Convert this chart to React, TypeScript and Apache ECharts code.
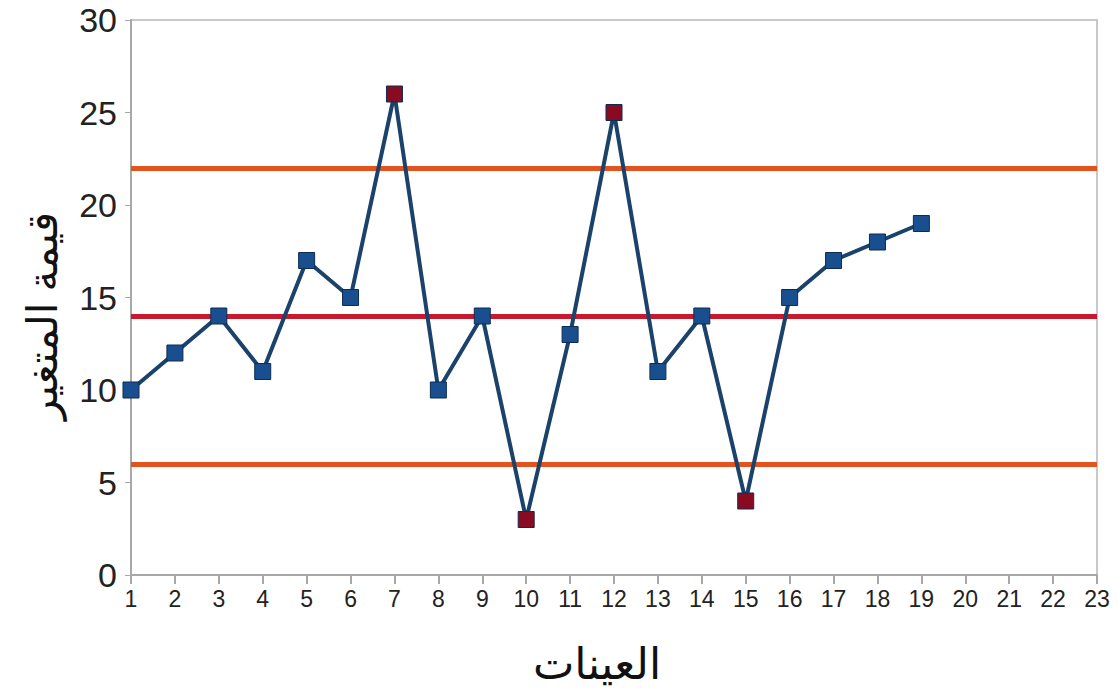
import React, { useEffect, useRef } from "react";
import * as echarts from "echarts";

const categories = ["1","2","3","4","5","6","7","8","9","10","11","12","13","14","15","16","17","18","19","20","21","22","23"];
const values = [10, 12, 14, 11, 17, 15, 26, 10, 14, 3, 13, 25, 11, 14, 4, 15, 17, 18, 19];
const UCL = 22;
const CL = 14;
const LCL = 6;
const yTitle = "قيمة المتغير";
const xTitle = "العينات";

export default function App() {
  const ref = useRef<HTMLDivElement>(null);
  useEffect(() => {
    document.body.style.margin = "0";
    const chart = echarts.init(ref.current!, null, { renderer: "svg" });
    const font = "'Liberation Sans', Arial, sans-serif";
    const arFont = "'Noto Sans', 'DejaVu Sans', sans-serif";
    chart.setOption({
      animation: false,
      backgroundColor: "#ffffff",
      grid: {
        left: 131,
        right: 21,
        top: 20,
        bottom: 122,
        show: true,
        borderColor: "#c8c8c8",
        borderWidth: 2,
      },
      graphic: [
        {
          type: "text",
          x: 40,
          y: 316,
          rotation: Math.PI / 2,
          style: {
            text: yTitle,
            fontSize: 42,
            fill: "#111",
            fontFamily: arFont,
            textAlign: "center",
            textVerticalAlign: "middle",
          },
        },
        {
          type: "text",
          x: 597,
          y: 662,
          style: {
            text: xTitle,
            fontSize: 44,
            fill: "#111",
            fontFamily: arFont,
            textAlign: "center",
            textVerticalAlign: "middle",
          },
        },
      ],
      xAxis: {
        type: "category",
        data: categories,
        boundaryGap: false,
        axisLine: { lineStyle: { color: "#a8a8a8", width: 2 } },
        axisTick: { show: true, length: 9, lineStyle: { color: "#a8a8a8", width: 2 } },
        axisLabel: { fontSize: 23, color: "#222", margin: 12, fontFamily: font },
        splitLine: { show: false },
      },
      yAxis: {
        type: "value",
        min: 0,
        max: 30,
        interval: 5,
        axisLine: { show: true, lineStyle: { color: "#a8a8a8", width: 2 } },
        axisTick: { show: true, length: 6, lineStyle: { color: "#a8a8a8", width: 1 } },
        axisLabel: { fontSize: 34, color: "#222", margin: 14, fontFamily: font },
        splitLine: { show: false },
      },
      series: [
        {
          type: "line",
          data: values,
          symbol: "rect",
          symbolSize: 16,
          lineStyle: { color: "#1b426b", width: 4 },
          itemStyle: {
            color: (p: any) => (p.value > UCL || p.value < LCL ? "#8a0a22" : "#1a4f8f"),
            borderColor: "#0d2c52",
            borderWidth: 1,
          },
          z: 3,
          markLine: {
            silent: true,
            symbol: "none",
            label: { show: false },
            z: 2,
            data: [
              { yAxis: UCL, lineStyle: { color: "#e3531f", width: 5, type: "solid" } },
              { yAxis: CL, lineStyle: { color: "#c81a2e", width: 5, type: "solid" } },
              { yAxis: LCL, lineStyle: { color: "#e3531f", width: 5, type: "solid" } },
            ],
          },
        },
      ],
    });
    return () => chart.dispose();
  }, []);
  return <div ref={ref} style={{ width: 1118, height: 697 }} />;
}
